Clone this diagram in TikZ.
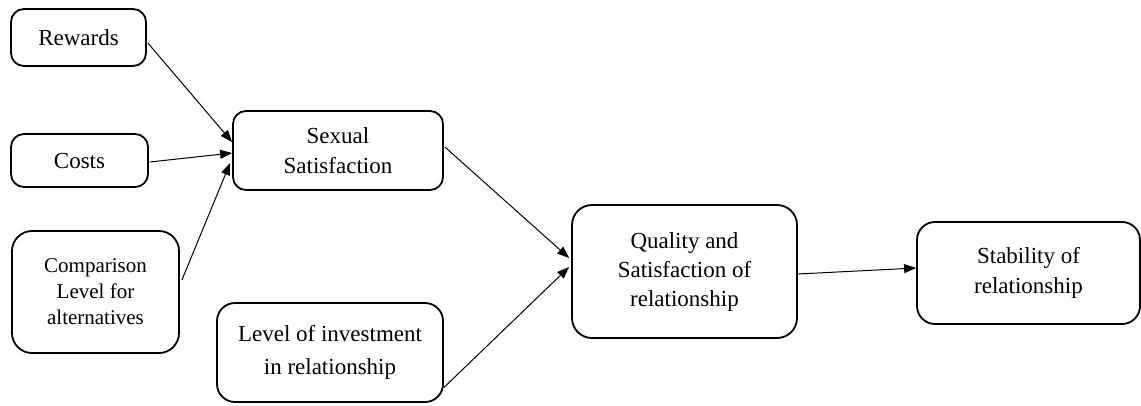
\documentclass[tikz,border=0pt]{standalone}
\usepackage{fontspec}
\setmainfont{Liberation Serif}
\usetikzlibrary{arrows.meta,calc}
\tikzset{
  box/.style={draw=black, line width=1.8pt, rounded corners=13pt, inner sep=0pt, align=center,
    font=\fontsize{23}{30}\selectfont},
  conn/.style={draw=black, line width=1pt, -{Triangle[length=12pt,width=9pt]}}
}
\begin{document}
\begin{tikzpicture}[x=1pt,y=-1pt]
\useasboundingbox (0,0) rectangle (1141,405);
\node[box, minimum width=135pt, minimum height=57pt] (rew) at (78.5,37.5) {Rewards};
\node[box, minimum width=137pt, minimum height=53pt] (cost) at (79.5,160.5) {Costs};
\node[box, minimum width=167pt, minimum height=122pt, rounded corners=20pt, font=\fontsize{21}{26}\selectfont] (comp) at (95.5,292) {Comparison\\Level for\\alternatives};
\node[box, minimum width=226pt, minimum height=99pt, rounded corners=18pt, font=\fontsize{23}{33}\selectfont] (inv) at (330,352.5) {Level of investment\\in relationship};
\node[box, minimum width=210pt, minimum height=79pt] (sex) at (338,150.5) {Sexual\\Satisfaction};
\node[box, minimum width=225pt, minimum height=133pt, rounded corners=20pt, font=\fontsize{23}{29}\selectfont] (qual) at (684.5,271.5) {Quality and\\Satisfaction of\\relationship};
\node[box, minimum width=223pt, minimum height=102pt, rounded corners=18pt, font=\fontsize{23}{30}\selectfont] (stab) at (1028.5,273) {Stability of\\relationship};
\draw[conn] ($(rew.east)+(1,5.5)$) -- ($(sex.west)+(0,-8.5)$);
\draw[conn] ($(cost.east)+(1,1.5)$) -- ($(sex.west)+(0,2.5)$);
\draw[conn] ($(comp.east)+(2,-12)$) -- ($(sex.west)+(-2,12.5)$);
\draw[conn] ($(sex.east)+(1,-3.5)$) -- ($(qual.west)+(-2,-13.5)$);
\draw[conn] ($(inv.east)+(0,35)$) -- ($(qual.west)+(-2,-4.5)$);
\draw[conn] ($(qual.east)+(0,2.5)$) -- ($(stab.west)+(0,-5)$);
\end{tikzpicture}
\end{document}
